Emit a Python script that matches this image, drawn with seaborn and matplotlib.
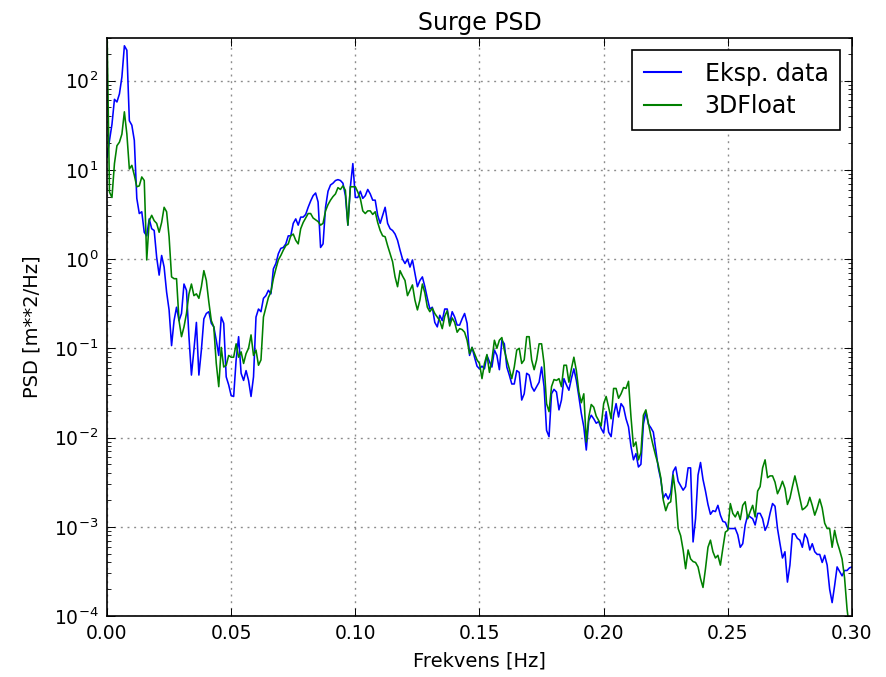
import numpy as np
import pandas as pd
import matplotlib
matplotlib.use("Agg")
import matplotlib.pyplot as plt
import seaborn as sns
from matplotlib.ticker import LogLocator, NullFormatter, FixedLocator, LogFormatterSciNotation

# ---------------- data ----------------
# frequency grid [Hz], 0.001 Hz resolution from 0 to 0.30 Hz
freq_hz = np.round(np.linspace(0.0, 0.30, 301), 3)

# PSD values stored as log10(PSD [m**2/Hz])
eksp_log10_psd = [
    1.14, 1.33, 1.51, 1.79, 1.76, 1.85, 2.04, 2.39, 2.34, 1.55,
    1.50, 1.33, 0.68, 0.51, 0.53, 0.30, 0.26, 0.45, 0.34, 0.32,
    0.02, -0.18, 0.04, -0.09, -0.37, -0.57, -0.97, -0.69, -0.54, -0.69,
    -0.61, -0.28, -0.35, -0.87, -1.30, -1.02, -0.71, -1.30, -1.02, -0.67,
    -0.61, -0.59, -0.72, -0.76, -0.91, -1.08, -0.65, -0.72, -1.32, -1.41,
    -1.53, -1.54, -1.13, -0.87, -1.28, -1.36, -1.25, -1.36, -1.54, -1.32,
    -0.65, -0.56, -0.59, -0.44, -0.41, -0.35, -0.39, -0.11, -0.05, 0.06,
    0.12, 0.13, 0.17, 0.26, 0.26, 0.40, 0.45, 0.38,
    0.47, 0.47, 0.50, 0.58, 0.65, 0.71, 0.74, 0.64, 0.13, 0.17,
    0.58, 0.76, 0.83, 0.85, 0.88, 0.89, 0.88, 0.85, 0.71, 0.38,
    0.81, 1.07, 0.69, 0.69, 0.76, 0.68, 0.71, 0.78, 0.73, 0.66,
    0.66, 0.49, 0.40, 0.49, 0.58, 0.40, 0.34, 0.32, 0.28, 0.21,
    0.10, 0.00, -0.05, 0.00, -0.09, -0.01, -0.16, -0.31, -0.24, -0.20,
    -0.31, -0.44, -0.56, -0.54, -0.71, -0.76, -0.63, -0.69, -0.56, -0.56,
    -0.72, -0.59, -0.65, -0.74, -0.74, -0.67, -0.61,
    -0.72, -1.08, -0.99, -1.10, -1.20, -1.23, -1.20, -1.23, -1.08, -1.15,
    -1.21, -1.02, -1.08, -1.24, -0.91, -0.95, -1.21, -1.30, -1.40, -1.40,
    -1.25, -1.27, -1.58, -1.51, -1.28, -1.30, -1.43, -1.48, -1.43, -1.38,
    -1.21, -1.43, -1.92, -1.99, -1.51, -1.46, -1.49, -1.69, -1.58, -1.34,
    -1.41, -1.47, -1.34, -1.23, -1.36, -1.54, -1.73, -1.88, -2.14, -1.81,
    -1.75, -1.79, -1.84, -1.82, -1.90, -1.95, -1.71, -1.94, -1.99, -1.75,
    -1.62, -1.77, -1.62, -1.66, -1.79, -1.88, -2.10, -2.25, -2.18, -2.33,
    -2.30, -1.85, -1.71, -1.85, -1.89, -1.94, -2.14, -2.34,
    -2.47, -2.68, -2.63, -2.69, -2.62, -2.38, -2.33, -2.49, -2.54, -2.59,
    -2.55, -2.34, -2.34, -3.17, -2.91, -2.42, -2.28, -2.47, -2.60, -2.75,
    -2.86, -2.82, -2.83, -2.76, -2.87, -2.94, -2.95, -3.02, -3.02, -3.02,
    -3.02, -3.09, -3.23, -3.19, -2.98, -2.87, -2.89, -2.91, -2.98, -2.85,
    -2.85, -2.91, -3.04, -2.98, -2.85, -2.74, -2.77, -3.02, -3.19, -3.35,
    -3.28, -3.62, -3.43, -3.08, -3.08, -3.13, -3.15, -3.23, -3.08, -3.13,
    -3.26, -3.19, -3.28, -3.31, -3.31, -3.40, -3.32, -3.43, -3.70, -3.85,
    -3.66, -3.45, -3.50, -3.55, -3.49, -3.49, -3.46, -3.45,
]

float3d_log10_psd = [
    2.60, 0.75, 0.69, 1.07, 1.27, 1.31, 1.40, 1.65, 1.40, 1.01,
    1.05, 0.94, 0.81, 0.82, 0.92, 0.88, -0.01, 0.43, 0.49, 0.43,
    0.40, 0.30, 0.41, 0.58, 0.53, 0.25, -0.20, -0.22, -0.22, -0.69,
    -0.87, -0.76, -0.61, -0.39, -0.28, -0.41, -0.39, -0.44, -0.31, -0.13,
    -0.24, -0.48, -0.69, -0.76, -1.17, -1.43, -0.99, -1.21, -1.19, -1.08,
    -1.10, -1.10, -0.95, -1.10, -1.04, -1.17, -1.06, -1.00, -0.85, -1.08,
    -1.02, -1.19, -1.13, -0.65, -0.54, -0.43, -0.37, -0.22, -0.11, -0.01,
    0.04, 0.10, 0.15, 0.17, 0.26, 0.28, 0.21, 0.17,
    0.34, 0.41, 0.46, 0.51, 0.51, 0.46, 0.44, 0.42, 0.38, 0.40,
    0.54, 0.61, 0.66, 0.70, 0.73, 0.80, 0.78, 0.82, 0.77, 0.38,
    0.81, 0.81, 0.81, 0.75, 0.68, 0.54, 0.51, 0.54, 0.54, 0.50,
    0.53, 0.41, 0.32, 0.26, 0.25, 0.15, 0.06, -0.03, -0.20, -0.31,
    -0.13, -0.19, -0.24, -0.41, -0.35, -0.29, -0.46, -0.57, -0.46, -0.28,
    -0.38, -0.54, -0.59, -0.55, -0.61, -0.65, -0.69, -0.78, -0.64, -0.58,
    -0.75, -0.66, -0.71, -0.82, -0.78, -0.79, -0.82,
    -0.91, -1.06, -0.99, -1.06, -1.13, -1.17, -1.34, -1.17, -1.07, -1.27,
    -1.13, -0.91, -1.00, -0.91, -0.88, -1.02, -1.13, -1.23, -1.34, -1.21,
    -1.02, -1.00, -1.17, -1.13, -0.87, -0.87, -1.13, -1.24, -1.13, -0.95,
    -0.95, -1.17, -1.62, -1.71, -1.43, -1.35, -1.36, -1.34, -1.43, -1.19,
    -1.19, -1.38, -1.23, -1.10, -1.25, -1.49, -1.61, -1.51, -2.05, -1.77,
    -1.63, -1.66, -1.76, -1.81, -1.87, -1.62, -1.54, -1.66, -1.79, -1.45,
    -1.45, -1.56, -1.51, -1.44, -1.45, -1.37, -1.77, -2.10, -2.05, -2.25,
    -2.17, -1.75, -1.69, -1.84, -1.98, -2.10, -2.21, -2.31,
    -2.45, -2.70, -2.82, -2.74, -2.72, -2.42, -2.64, -3.02, -3.10, -3.26,
    -3.47, -3.26, -3.36, -3.39, -3.40, -3.45, -3.58, -3.68, -3.47, -3.23,
    -3.15, -3.28, -3.35, -3.32, -3.43, -3.24, -3.06, -3.04, -2.74, -2.85,
    -2.89, -2.83, -2.92, -2.76, -2.72, -2.91, -2.83, -2.76, -2.89, -2.60,
    -2.55, -2.34, -2.25, -2.45, -2.43, -2.43, -2.50, -2.63, -2.57, -2.49,
    -2.57, -2.75, -2.68, -2.55, -2.43, -2.55, -2.68, -2.81, -2.79, -2.76,
    -2.67, -2.76, -2.87, -2.79, -2.69, -2.79, -2.96, -3.02, -3.02, -3.23,
    -3.04, -3.17, -3.26, -3.36, -3.57, -3.92, -4.15, -4.15,
]

series_names = ["Eksp. data", "3DFloat"]
series_colors = {"Eksp. data": "#0000ff", "3DFloat": "#008000"}
xtick_values = [0.00, 0.05, 0.10, 0.15, 0.20, 0.25, 0.30]
xtick_labels = ["0.00", "0.05", "0.10", "0.15", "0.20", "0.25", "0.30"]
ytick_values = [1e-4, 1e-3, 1e-2, 1e-1, 1e0, 1e1, 1e2]
title_text = "Surge PSD"
xlabel_text = "Frekvens [Hz]"
ylabel_text = "PSD [m**2/Hz]"

# ---------------- build long-form table ----------------
df = pd.DataFrame({
    "freq": np.concatenate([freq_hz, freq_hz]),
    "psd": np.power(10.0, np.concatenate([eksp_log10_psd, float3d_log10_psd])),
    "series": [series_names[0]] * len(freq_hz) + [series_names[1]] * len(freq_hz),
})

plt.rcParams["font.family"] = ["DejaVu Sans"]
plt.rcParams["mathtext.fontset"] = "dejavusans"

fig = plt.figure(figsize=(8.87, 6.77), dpi=100)
ax = fig.add_axes([107 / 887, 1 - 616 / 677, 745 / 887, 578 / 677])

sns.lineplot(data=df, x="freq", y="psd", hue="series", hue_order=series_names,
             palette=series_colors, estimator=None, sort=False,
             linewidth=1.15, ax=ax)

ax.set_yscale("log")
ax.set_xlim(0.0, 0.30)
ax.set_ylim(1e-4, 300)

ax.set_xticks(xtick_values)
ax.set_xticklabels(xtick_labels)
ax.yaxis.set_major_locator(FixedLocator(ytick_values))
ax.yaxis.set_major_formatter(LogFormatterSciNotation())
ax.yaxis.set_minor_locator(LogLocator(base=10, subs=np.arange(2, 10), numticks=12))
ax.yaxis.set_minor_formatter(NullFormatter())

ax.tick_params(which="both", direction="in", top=True, right=True,
               labelsize=13.5, colors="black")
ax.tick_params(which="major", length=5.5, width=0.7, pad=6)
ax.tick_params(which="minor", length=2.8, width=0.6)

ax.grid(True, which="major", color="0.55", linestyle=(0, (1.4, 3.4)), linewidth=1.0)
ax.set_axisbelow(True)
for sp in ax.spines.values():
    sp.set_linewidth(1.2)
    sp.set_color("black")

ax.set_title(title_text, fontsize=17, pad=6)
ax.set_xlabel(xlabel_text, fontsize=14, labelpad=6)
ax.set_ylabel(ylabel_text, fontsize=14, labelpad=9)

handles, labels = ax.get_legend_handles_labels()
leg = ax.legend(handles, labels, loc="upper right", fontsize=17, frameon=True,
                fancybox=False, framealpha=1, edgecolor="black",
                borderaxespad=0.5, handlelength=1.55, handletextpad=1.0,
                borderpad=0.5, labelspacing=0.35)
leg.get_frame().set_linewidth(1.2)
for ln in leg.get_lines():
    ln.set_linewidth(1.5)

fig.savefig("out.png", dpi=100, facecolor="white")
